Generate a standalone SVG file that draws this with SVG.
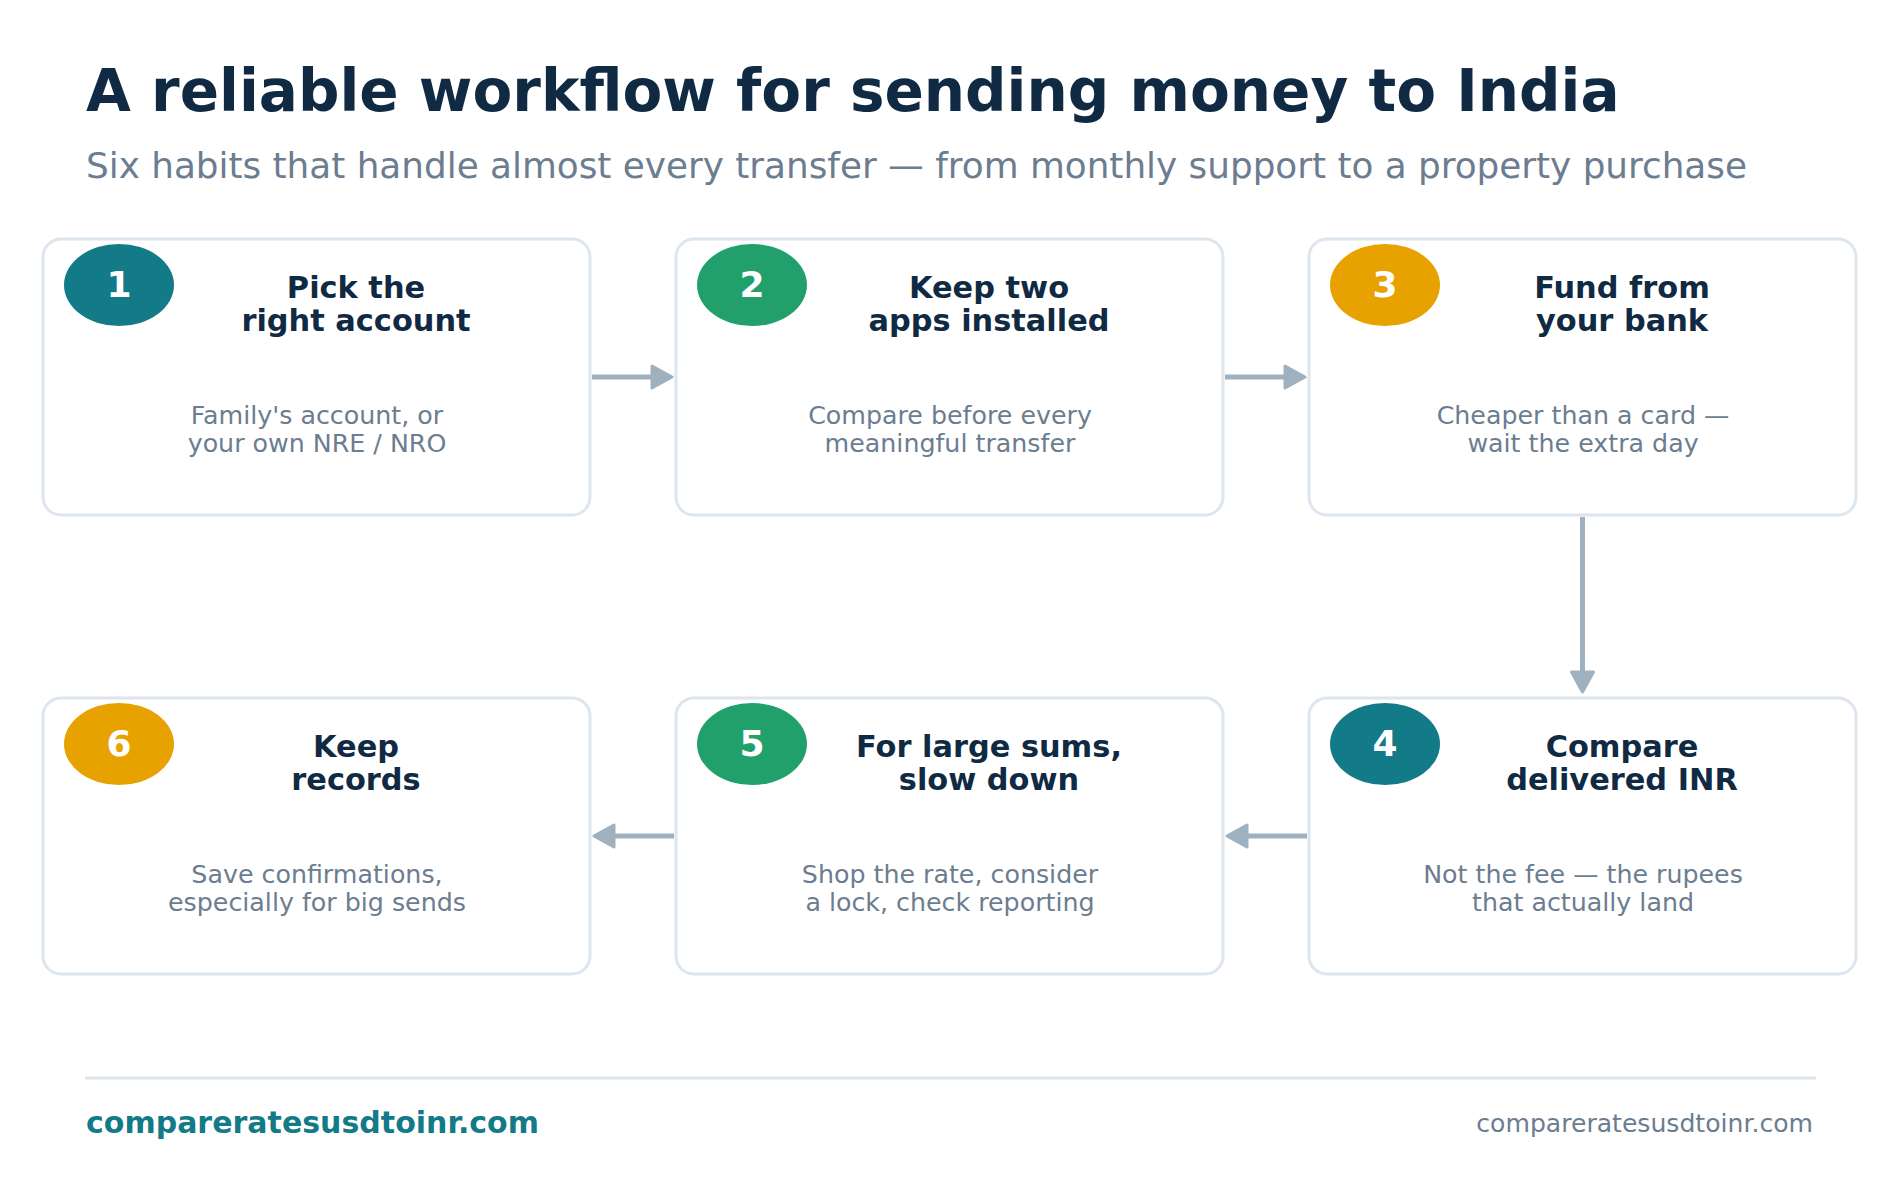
<svg xmlns="http://www.w3.org/2000/svg" width="1900" height="1178" viewBox="0 0 1900 1178">
  <defs>
    <marker id="ah" markerUnits="userSpaceOnUse" markerWidth="30" markerHeight="30" viewBox="0 0 30 30" refX="4" refY="15" orient="auto">
      <path d="M4,4 L24,15 L4,26 Z" fill="#9fb0bf" stroke="#9fb0bf" stroke-width="3" stroke-linejoin="round"/>
    </marker>
    <style>
      text { font-family: "DejaVu Sans", "Liberation Sans", sans-serif; }
      .box { fill: #ffffff; stroke: #dde5ee; stroke-width: 3; }
      .num { fill: #ffffff; font-weight: bold; font-size: 36px; text-anchor: middle; }
      .ttl { fill: #102a43; font-weight: bold; font-size: 30.4px; text-anchor: middle; }
      .dsc { fill: #6b7d8f; font-size: 25.3px; text-anchor: middle; }
      .conn { stroke: #9fb0bf; stroke-width: 5; fill: none; marker-end: url(#ah); }
      .teal { fill: #137a87; }
      .green { fill: #21a06c; }
      .amber { fill: #e8a200; }
    </style>
  </defs>
  <rect width="1900" height="1178" fill="#ffffff"/>

  <g id="header">
    <text x="86" y="111" font-size="58" font-weight="bold" fill="#102a43">A reliable workflow for sending money to India</text>
    <text x="86" y="178" font-size="35.8" fill="#6b7d8f">Six habits that handle almost every transfer — from monthly support to a property purchase</text>
  </g>

  <g id="connectors">
    <line class="conn" x1="592" y1="377" x2="652" y2="377"/>
    <line class="conn" x1="1225" y1="377" x2="1285" y2="377"/>
    <line class="conn" x1="1582.5" y1="517" x2="1582.5" y2="672"/>
    <line class="conn" x1="1307" y1="836" x2="1247" y2="836"/>
    <line class="conn" x1="674" y1="836" x2="614" y2="836"/>
  </g>

  <g id="step1">
    <rect class="box" x="43" y="239" width="547" height="276" rx="18"/>
    <ellipse class="teal" cx="119" cy="285" rx="55" ry="41"/>
    <text class="num" x="119" y="297">1</text>
    <text class="ttl" x="356" y="298">Pick the</text>
    <text class="ttl" x="356" y="331">right account</text>
    <text class="dsc" x="317" y="424">Family's account, or</text>
    <text class="dsc" x="317" y="452">your own NRE / NRO</text>
  </g>

  <g id="step2">
    <rect class="box" x="676" y="239" width="547" height="276" rx="18"/>
    <ellipse class="green" cx="752" cy="285" rx="55" ry="41"/>
    <text class="num" x="752" y="297">2</text>
    <text class="ttl" x="989" y="298">Keep two</text>
    <text class="ttl" x="989" y="331">apps installed</text>
    <text class="dsc" x="950" y="424">Compare before every</text>
    <text class="dsc" x="950" y="452">meaningful transfer</text>
  </g>

  <g id="step3">
    <rect class="box" x="1309" y="239" width="547" height="276" rx="18"/>
    <ellipse class="amber" cx="1385" cy="285" rx="55" ry="41"/>
    <text class="num" x="1385" y="297">3</text>
    <text class="ttl" x="1622" y="298">Fund from</text>
    <text class="ttl" x="1622" y="331">your bank</text>
    <text class="dsc" x="1583" y="424">Cheaper than a card —</text>
    <text class="dsc" x="1583" y="452">wait the extra day</text>
  </g>

  <g id="step4">
    <rect class="box" x="1309" y="698" width="547" height="276" rx="18"/>
    <ellipse class="teal" cx="1385" cy="744" rx="55" ry="41"/>
    <text class="num" x="1385" y="756">4</text>
    <text class="ttl" x="1622" y="757">Compare</text>
    <text class="ttl" x="1622" y="790">delivered INR</text>
    <text class="dsc" x="1583" y="883">Not the fee — the rupees</text>
    <text class="dsc" x="1583" y="911">that actually land</text>
  </g>

  <g id="step5">
    <rect class="box" x="676" y="698" width="547" height="276" rx="18"/>
    <ellipse class="green" cx="752" cy="744" rx="55" ry="41"/>
    <text class="num" x="752" y="756">5</text>
    <text class="ttl" x="989" y="757">For large sums,</text>
    <text class="ttl" x="989" y="790">slow down</text>
    <text class="dsc" x="950" y="883">Shop the rate, consider</text>
    <text class="dsc" x="950" y="911">a lock, check reporting</text>
  </g>

  <g id="step6">
    <rect class="box" x="43" y="698" width="547" height="276" rx="18"/>
    <ellipse class="amber" cx="119" cy="744" rx="55" ry="41"/>
    <text class="num" x="119" y="756">6</text>
    <text class="ttl" x="356" y="757">Keep</text>
    <text class="ttl" x="356" y="790">records</text>
    <text class="dsc" x="317" y="883">Save confirmations,</text>
    <text class="dsc" x="317" y="911">especially for big sends</text>
  </g>

  <g id="footer">
    <line x1="85" y1="1078" x2="1816" y2="1078" stroke="#dde5ee" stroke-width="3"/>
    <text x="86" y="1133" font-size="30" font-weight="bold" fill="#137a87">compareratesusdtoinr.com</text>
    <text x="1813" y="1132" font-size="25.1" fill="#6b7d8f" text-anchor="end">compareratesusdtoinr.com</text>
  </g>
</svg>
